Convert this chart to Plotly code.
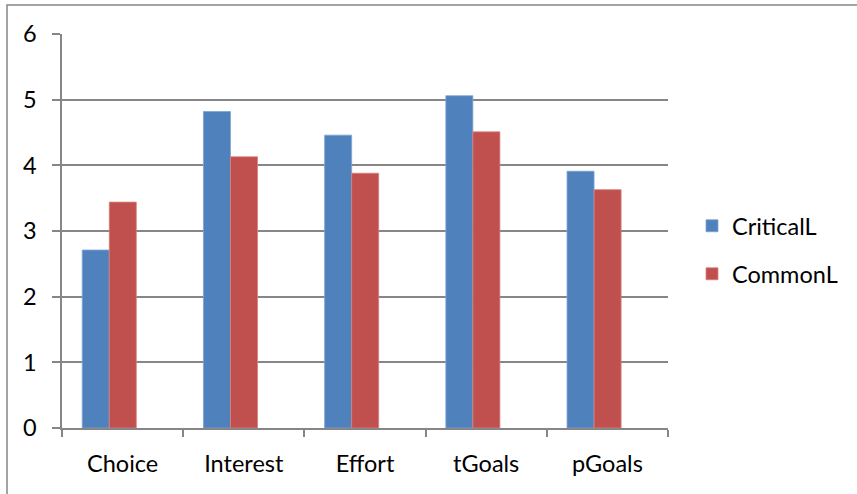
import plotly.graph_objects as go

categories = ["Choice", "Interest", "Effort", "tGoals", "pGoals"]
critical = [2.71, 4.82, 4.46, 5.06, 3.91]
common = [3.44, 4.13, 3.88, 4.51, 3.63]
series_names = ["CriticalL", "CommonL"]
y_ticks = [0, 1, 2, 3, 4, 5, 6]

W, H = 857, 494
L, R, T, B = 62, 668, 34, 428
pw, ph = R - L, B - T

def px_x(x):
    return (x - L) / pw

def px_y(y):
    return (B - y) / ph

bar_w = 0.223
fig = go.Figure()
fig.add_trace(go.Bar(x=categories, y=critical, name=series_names[0],
                     marker=dict(color="#4F81BD", line=dict(color="#7FA3D0", width=0.8)),
                     width=bar_w, offset=-0.333, legend="legend"))
fig.add_trace(go.Bar(x=categories, y=common, name=series_names[1],
                     marker=dict(color="#C0504D", line=dict(color="#D98280", width=0.8)),
                     width=bar_w, offset=-0.110, legend="legend2"))

font = dict(family="Lato, 'Open Sans', sans-serif", size=23.5, color="#000000")
fig.update_layout(
    width=W, height=H,
    margin=dict(l=L, r=W - R, t=T, b=H - B, pad=0),
    paper_bgcolor="white", plot_bgcolor="white",
    barmode="overlay",
    font=font,
    showlegend=True,
    legend=dict(x=px_x(692), y=px_y(226), xanchor="left", yanchor="middle",
                font=font, bgcolor="rgba(0,0,0,0)"),
    legend2=dict(x=px_x(692), y=px_y(274), xanchor="left", yanchor="middle",
                 font=font, bgcolor="rgba(0,0,0,0)"),
    xaxis=dict(showgrid=False, showline=True, linecolor="#868686", linewidth=1.5,
               ticks="outside", tickson="boundaries", ticklen=7, tickcolor="#868686",
               tickwidth=1.5, tickfont=font, ticklabelstandoff=14, fixedrange=True),
    yaxis=dict(range=[0, 6], tickvals=y_ticks, showgrid=True, gridcolor="#868686",
               gridwidth=1.5, showline=True, linecolor="#868686", linewidth=1.5,
               ticks="outside", ticklen=8, tickcolor="#868686", tickwidth=1.5,
               tickfont=font, ticklabelstandoff=11, zeroline=False, fixedrange=True),
    shapes=[dict(type="rect", xref="paper", yref="paper",
                 x0=px_x(7), x1=px_x(870), y0=px_y(510), y1=px_y(5),
                 line=dict(color="#868686", width=1.5), fillcolor="rgba(0,0,0,0)",
                 layer="below")],
)
fig.write_html("out.html")
